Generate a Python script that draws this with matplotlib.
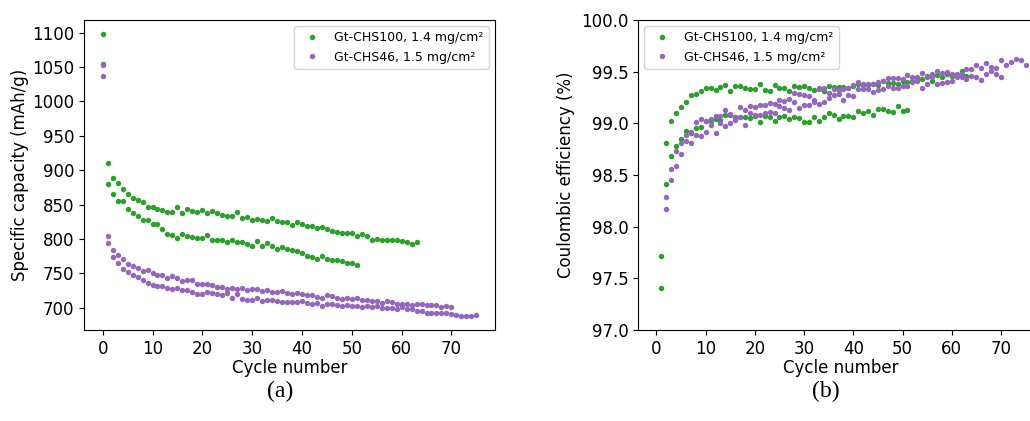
import matplotlib
matplotlib.use("Agg")
import matplotlib.pyplot as plt

# ---------------- data ----------------
label_g = "Gt-CHS100, 1.4 mg/cm²"
label_p = "Gt-CHS46, 1.5 mg/cm²"
color_g = "#2ca02c"
color_p = "#9467bd"

# specific capacity (mAh/g), starting at cycle 0
cap_g1 = [1055, 880, 889, 882, 872, 866, 859, 856, 854, 846,
          847, 844, 842, 839, 839, 846, 838, 844, 840, 839,
          842, 837, 841, 837, 835, 833, 834, 839, 830, 832,
          828, 829, 828, 826, 830, 826, 825, 825, 820, 824,
          821, 819, 819, 816, 817, 814, 812, 810, 809, 809,
          808, 804, 807, 804, 799, 800, 799, 799, 798, 798,
          797, 796, 793, 795]
cap_g2 = [1098, 910, 866, 855, 855, 843, 838, 833, 827, 827,
          821, 821, 815, 807, 805, 801, 807, 804, 803, 801,
          802, 806, 799, 799, 799, 795, 798, 795, 795, 793,
          789, 797, 790, 794, 790, 786, 788, 785, 784, 783,
          780, 775, 773, 771, 775, 771, 770, 769, 768, 765,
          765, 762]
cap_p1 = [1053, 803.8, 783.5, 776.3, 770.5, 764.2, 761.3, 757.4, 753.5, 755.0,
          750.7, 748.2, 747.3, 742.9, 745.8, 743.4, 738.1, 740.0, 739.6, 734.2,
          734.2, 734.2, 732.8, 729.9, 730.4, 727.5, 728.4, 727.5, 728.9, 726.0,
          727.0, 726.5, 724.1, 725.1, 723.1, 723.1, 723.6, 721.7,
          720.2, 720.7, 720.2, 717.8, 718.3, 715.9, 714.4, 717.8, 716.8, 713.5,
          712.5, 713.5, 712.5, 713.9, 711.0, 711.0, 709.6, 709.6, 707.2, 709.1,
          708.1, 705.3, 704.8, 704.8, 704.3, 705.3, 705.3, 704.3, 704.3, 703.3,
          700.9, 702.4, 700.9]
cap_p2 = [1037, 793.7, 773.4, 764.7, 756.9, 752.1, 746.8, 744.4, 739.6, 736.2,
          733.3, 731.3, 731.3, 728.9, 727.0, 728.0, 725.1, 725.1, 722.2, 720.2,
          720.2, 722.6, 720.7, 719.7, 718.3, 720.7, 714.4, 720.2, 712.0, 711.5,
          711.5, 713.5, 709.1, 710.5, 710.5, 709.1, 708.1, 708.1,
          708.1, 708.1, 709.1, 706.2, 705.3, 706.7, 702.8, 705.3, 704.8, 703.3,
          701.9, 704.3, 702.4, 701.9, 700.9, 701.9, 700.9, 702.4, 699.9, 699.0,
          699.4, 698.5, 700.4, 698.5, 698.5, 694.6, 694.6, 692.7, 692.2, 691.7,
          692.7, 692.7, 690.8, 689.3, 688.3, 688.3, 687.9, 689.3]
cap_start_cycle = 0

# coulombic efficiency (%)
ce_g1 = [97.72, 98.81, 99.02, 99.10, 99.16, 99.21, 99.27, 99.28, 99.31, 99.34,
         99.34, 99.32, 99.35, 99.37, 99.31, 99.36, 99.36, 99.34, 99.33, 99.33,
         99.38, 99.32, 99.31, 99.37, 99.34, 99.34, 99.31, 99.36, 99.35, 99.36,
         99.34, 99.32, 99.33, 99.31, 99.36, 99.35, 99.35, 99.35, 99.34, 99.36,
         99.38, 99.37, 99.37, 99.38, 99.37, 99.41, 99.39, 99.39, 99.38, 99.41,
         99.40, 99.41, 99.42, 99.43, 99.46, 99.41, 99.47, 99.45, 99.48, 99.46,
         99.47, 99.51, 99.46]
ce_g2 = [97.41, 98.41, 98.68, 98.78, 98.85, 98.93, 98.91, 98.95, 98.96, 99.02,
         99.02, 99.04, 99.03, 99.08, 99.08, 99.06, 99.06, 99.06, 99.05, 99.07,
         99.01, 99.07, 99.06, 99.02, 99.06, 99.07, 99.04, 99.06, 99.05, 99.01,
         99.01, 99.06, 99.02, 99.06, 99.10, 99.08, 99.04, 99.07, 99.07, 99.06,
         99.12, 99.10, 99.12, 99.08, 99.14, 99.14, 99.12, 99.11, 99.17, 99.12,
         99.13]
ce_g_start = 1
ce_p1 = [98.29, 98.56, 98.73, 98.81, 98.89, 98.92, 99.01, 99.04, 99.02, 99.04,
         99.07, 99.07, 99.13, 99.09, 99.06, 99.16, 99.13, 99.17, 99.16, 99.18,
         99.18, 99.20, 99.19, 99.23,
         99.22, 99.24, 99.29, 99.28, 99.27, 99.26, 99.23, 99.34, 99.34, 99.29,
         99.33, 99.32, 99.33, 99.34, 99.37, 99.40, 99.38, 99.38, 99.38, 99.40,
         99.41, 99.44, 99.44,
         99.44, 99.43, 99.47, 99.45, 99.45, 99.49, 99.45, 99.48, 99.51, 99.49,
         99.50, 99.48, 99.48, 99.48, 99.53, 99.53, 99.56, 99.54, 99.58, 99.55,
         99.54, 99.61, 99.56, 99.59, 99.62, 99.61, 99.56]
ce_p2 = [98.17, 98.45, 98.59, 98.70, 98.83, 98.81, 98.89, 98.88, 98.92, 98.98,
         98.91, 99.00, 98.97, 99.00, 99.03, 99.06, 98.98, 99.10, 99.08, 99.08,
         99.10, 99.11, 99.10, 99.17,
         99.15, 99.13, 99.21, 99.15, 99.18, 99.18, 99.21, 99.19, 99.21, 99.25,
         99.27, 99.28, 99.23, 99.27, 99.26, 99.33, 99.33, 99.33, 99.30, 99.32,
         99.33, 99.36, 99.34,
         99.34, 99.36, 99.36, 99.40, 99.41, 99.34, 99.38, 99.45, 99.38, 99.39,
         99.40, 99.41, 99.45, 99.45, 99.43, 99.46, 99.45, 99.42, 99.48, 99.51,
         99.48, 99.45]
ce_p_start = 2

cap_yticks = [700, 750, 800, 850, 900, 950, 1000, 1050, 1100]
ce_yticks = [97.0, 97.5, 98.0, 98.5, 99.0, 99.5, 100.0]
x_ticks = [0, 10, 20, 30, 40, 50, 60, 70]


def cycles(values, start):
    return list(range(start, start + len(values)))


# ---------------- figure ----------------
plt.rcParams['font.family'] = ['DejaVu Sans']
W, H = 1030, 421
fig = plt.figure(figsize=(W / 100, H / 100), dpi=100)

mk = dict(marker='o', linestyle='none', ms=3.9, mew=0)

ax1 = fig.add_axes([84 / W, 91 / H, 411 / W, 310 / H])
ax1.plot(cycles(cap_g1, cap_start_cycle), cap_g1, color=color_g, label=label_g, **mk)
ax1.plot(cycles(cap_g2, cap_start_cycle), cap_g2, color=color_g, **mk)
ax1.plot(cycles(cap_p1, cap_start_cycle), cap_p1, color=color_p, label=label_p, **mk)
ax1.plot(cycles(cap_p2, cap_start_cycle), cap_p2, color=color_p, **mk)
ax1.set_xlim(-3.75, 78.75)
ax1.set_ylim(667.5, 1118.5)
ax1.set_xticks(x_ticks)
ax1.set_yticks(cap_yticks)
ax1.tick_params(labelsize=12)
ax1.set_xlabel("Cycle number", fontsize=12, labelpad=1)
ax1.set_ylabel("Specific capacity (mAh/g)", fontsize=12, labelpad=2)
ax1.legend(loc="upper right", fontsize=9)

ax2 = fig.add_axes([638 / W, 91 / H, 406 / W, 310 / H])
ax2.plot(cycles(ce_g1, ce_g_start), ce_g1, color=color_g, label=label_g, **mk)
ax2.plot(cycles(ce_g2, ce_g_start), ce_g2, color=color_g, **mk)
ax2.plot(cycles(ce_p1, ce_p_start), ce_p1, color=color_p, label=label_p, **mk)
ax2.plot(cycles(ce_p2, ce_p_start), ce_p2, color=color_p, **mk)
ax2.set_xlim(-3.75, 78.75)
ax2.set_ylim(97.0, 100.0)
ax2.set_xticks(x_ticks)
ax2.set_yticks(ce_yticks)
ax2.set_yticklabels([f"{v:.1f}" for v in ce_yticks])
ax2.tick_params(labelsize=12)
ax2.set_xlabel("Cycle number", fontsize=12, labelpad=1)
ax2.set_ylabel("Coulombic efficiency (%)", fontsize=12, labelpad=4)
ax2.legend(loc="upper left", fontsize=9)

fig.text(280 / W, 1 - 391 / H, "(a)", ha="center", va="center",
         fontsize=17, family="Liberation Serif")
fig.text(826 / W, 1 - 391 / H, "(b)", ha="center", va="center",
         fontsize=17, family="Liberation Serif")

fig.savefig("out.png", dpi=100)
